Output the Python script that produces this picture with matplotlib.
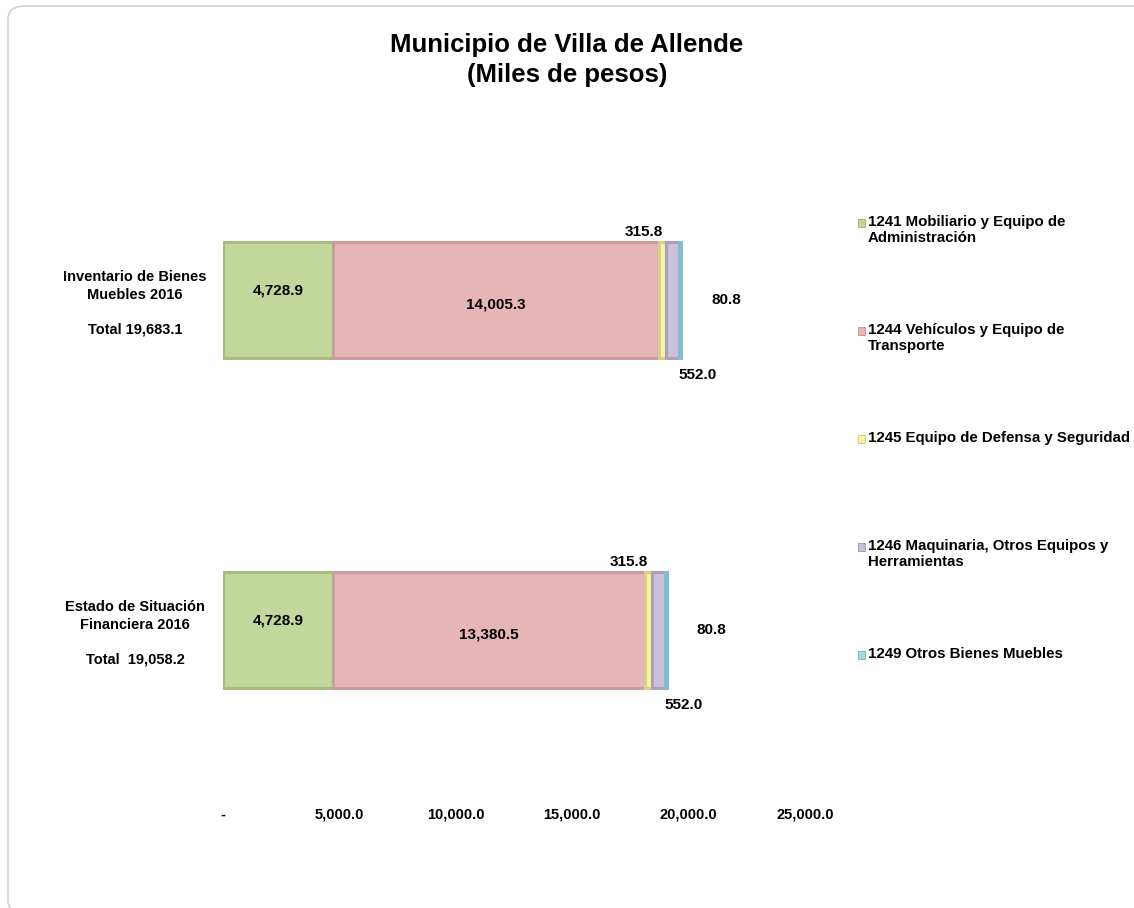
import matplotlib
matplotlib.use("Agg")
import matplotlib.pyplot as plt
from matplotlib.patches import FancyBboxPatch
import numpy as np

plt.rcParams['font.family'] = ['Liberation Sans', 'DejaVu Sans']

categories = ["Estado de Situación\nFinanciera 2016\n\nTotal  19,058.2",
              "Inventario de Bienes\nMuebles 2016\n\nTotal 19,683.1"]
series_names = ["1241 Mobiliario y Equipo de\nAdministración",
                "1244 Vehículos y Equipo de\nTransporte",
                "1245 Equipo de Defensa y Seguridad",
                "1246 Maquinaria, Otros Equipos y\nHerramientas",
                "1249 Otros Bienes Muebles"]
values = {
    "1241": [4728.9, 4728.9],
    "1244": [13380.5, 14005.3],
    "1245": [315.8, 315.8],
    "1246": [552.0, 552.0],
    "1249": [80.8, 80.8],
}
xticks = [0, 5000, 10000, 15000, 20000, 25000]
xtick_labels = ["-", "5,000.0", "10,000.0", "15,000.0", "20,000.0", "25,000.0"]

colors = ["#C3D69B", "#E6B5B6", "#F8F3A2", "#CCC1DA", "#A9D8E4"]
edges = ["#A9BC80", "#C99C9D", "#D6D184", "#ACA1BC", "#86BCCB"]

W, H = 1134, 908
fig = plt.figure(figsize=(W / 100, H / 100), dpi=100)
# rounded border
border = FancyBboxPatch((8 / W, -6 / H), (W + 20) / W, (H - 6 + 6) / H,
                        boxstyle="round,pad=0,rounding_size=0.015",
                        transform=fig.transFigure, facecolor="none",
                        edgecolor="#D0D0D0", linewidth=1.2, zorder=-5)
fig.patches.append(border)

ax = fig.add_axes([223 / W, 1 - 795 / H, (805 - 223) / W, (795 - 135) / H])
ax.set_facecolor("none")
ypos = np.arange(len(categories))
bar_h = 0.35
left = np.zeros(len(categories))
keys = list(values.keys())
for i, k in enumerate(keys):
    v = np.array(values[k])
    ax.barh(ypos, v, left=left, height=bar_h, color=colors[i],
            edgecolor=edges[i], linewidth=2.2, label=series_names[i])
    left = left + v

ax.set_xlim(0, 25000)
ax.set_ylim(-0.5, 1.5)
ax.set_xticks(xticks)
ax.set_xticklabels(xtick_labels, fontsize=10.5, fontweight="bold")
ax.tick_params(axis="x", length=0, pad=9)
ax.set_yticks([])
for s in ax.spines.values():
    s.set_visible(False)

# category labels
for j, c in enumerate(categories):
    ax.text(-88 / 582, ypos[j] - 0.01, c, transform=ax.get_yaxis_transform(),
            ha="center", va="center", fontsize=10.5, fontweight="bold", linespacing=1.3)

fs = 11
# value labels
for j in range(len(categories)):
    g = values["1241"][j]
    p = values["1244"][j]
    y = values["1245"][j]
    m = values["1246"][j]
    o = values["1249"][j]
    ax.text(g / 2, ypos[j] + 0.03, f"{g:,.1f}", ha="center", va="center",
            fontsize=fs, fontweight="bold")
    ax.text(g + p / 2, ypos[j] - 0.015, f"{p:,.1f}", ha="center", va="center",
            fontsize=fs, fontweight="bold")
    ax.text(g + p + y / 2, ypos[j] + bar_h / 2 + 0.01, f"{y:,.1f}", ha="right", va="bottom",
            fontsize=fs, fontweight="bold")
    tot = g + p + y + m + o
    ax.text(g + p + y + m + 800, ypos[j] - bar_h / 2 - 0.03, f"{m:,.1f}", ha="center", va="top",
            fontsize=fs, fontweight="bold")
    ax.text(tot + 1300, ypos[j], f"{o:,.1f}", ha="left", va="center",
            fontsize=fs, fontweight="bold")

fig.text(0.5, 1 - 45 / H, "Municipio de Villa de Allende", ha="center", va="center",
         fontsize=18.5, fontweight="bold")
fig.text(0.5, 1 - 75 / H, "(Miles de pesos)", ha="center", va="center",
         fontsize=18.5, fontweight="bold")

# legend
leg_y = [223, 331, 439, 547, 655]
for i in range(len(series_names)):
    fig.patches.append(plt.Rectangle((858 / W, 1 - (leg_y[i] + 4) / H), 7 / W, 8 / H,
                                     transform=fig.transFigure, facecolor=colors[i],
                                     edgecolor=edges[i], linewidth=0.8))
    fig.text(868 / W, 1 - (leg_y[i] - 8) / H, series_names[i], ha="left", va="top",
             fontsize=10.8, fontweight="bold", linespacing=1.15)

fig.savefig("out.png", dpi=100)
